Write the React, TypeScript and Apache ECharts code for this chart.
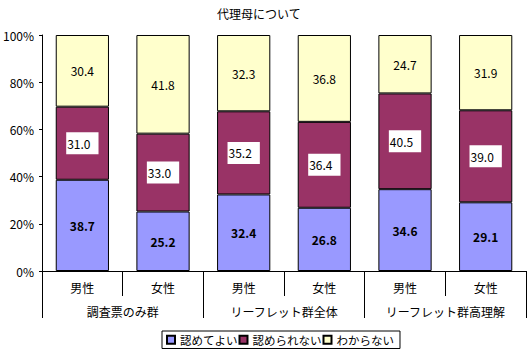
import React, { useEffect, useRef } from "react";
import * as echarts from "echarts";

const categories = ["男性", "女性", "男性", "女性", "男性", "女性"];
const groups = ["調査票のみ群", "リーフレット群全体", "リーフレット群高理解"];
const seriesNames = ["認めてよい", "認められない", "わからない"];
const approve = [38.7, 25.2, 32.4, 26.8, 34.6, 29.1];
const disapprove = [31.0, 33.0, 35.2, 36.4, 40.5, 39.0];
const unknown = [30.4, 41.8, 32.3, 36.8, 24.7, 31.9];
const colors = ["#9999FF", "#993366", "#FFFFCC"];

const FONT = "'Noto Sans CJK JP', 'Noto Sans', sans-serif";

export default function App() {
  const ref = useRef<HTMLDivElement>(null);
  useEffect(() => {
    document.body.style.margin = "0";
    if (!ref.current) return;
    const chart = echarts.init(ref.current, null, { renderer: "svg" });
    const all = [approve, disapprove, unknown];
    const totals = categories.map((_, i) => all.reduce((s, arr) => s + arr[i], 0));
    const labelStyles: any[] = [
      { color: "#000", fontWeight: "bold", fontSize: 12 },
      {
        color: "#000",
        fontSize: 12,
        backgroundColor: "#fff",
        padding: [5, 8, 5, 1],
      },
      { color: "#000", fontSize: 12 },
    ];
    chart.setOption({
      animation: false,
      textStyle: { fontFamily: FONT },
      title: {
        text: "代理母について",
        left: 212,
        top: 2,
        textStyle: { fontSize: 12, fontWeight: "normal", color: "#000", fontFamily: FONT },
      },
      legend: {
        data: seriesNames,
        left: 162,
        top: 331,
        itemWidth: 8,
        itemHeight: 8,
        itemGap: 1,
        padding: [3, 6, 3, 4],
        borderColor: "#000",
        borderWidth: 1,
        icon: "rect",
        textStyle: { fontSize: 11.5, color: "#000", fontFamily: FONT },
      },
      grid: { left: 37, right: 4, top: 35, bottom: 84 },
      xAxis: [
        {
          type: "category",
          data: categories,
          position: "bottom",
          axisLine: { show: true, lineStyle: { color: "#000", width: 1 } },
          axisTick: { show: true, length: 25, interval: 0, lineStyle: { color: "#000" } },
          axisLabel: { margin: 10, fontSize: 12, color: "#000", interval: 0, fontFamily: FONT },
        },
        {
          type: "category",
          data: groups,
          position: "bottom",
          axisLine: { show: false },
          axisTick: { show: true, length: 47, interval: 0, lineStyle: { color: "#000" } },
          axisLabel: { margin: 34, fontSize: 12, color: "#000", interval: 0, fontFamily: FONT },
        },
      ],
      yAxis: {
        type: "value",
        min: 0,
        max: 100,
        interval: 20,
        axisLine: { show: true, lineStyle: { color: "#000", width: 1 } },
        axisTick: { show: true, length: 3, lineStyle: { color: "#000" } },
        splitLine: { show: false },
        axisLabel: { formatter: "{value}%", fontSize: 12, color: "#000", margin: 8, fontFamily: FONT },
      },
      series: all.map((arr, si) => ({
        name: seriesNames[si],
        type: "bar",
        stack: "total",
        xAxisIndex: 0,
        barWidth: "66%",
        itemStyle: { color: colors[si], borderColor: "#000", borderWidth: 1 },
        label: {
          show: true,
          position: "inside",
          fontFamily: FONT,
          ...labelStyles[si],
          formatter: (p: any) => p.data.raw.toFixed(1),
        },
        data: arr.map((v, i) => ({ value: (v / totals[i]) * 100, raw: v })),
      })),
    });
    return () => chart.dispose();
  }, []);
  return (
    <div
      ref={ref}
      style={{ width: 530, height: 355, position: "absolute", left: 0, top: 0, background: "#fff" }}
    />
  );
}
